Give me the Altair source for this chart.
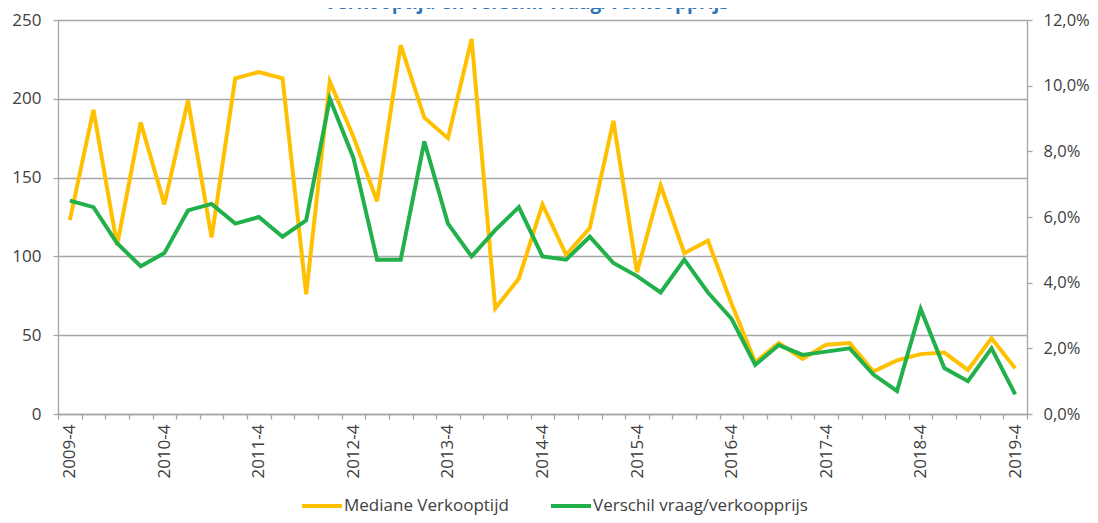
import altair as alt
import pandas as pd

quarters = [
    "2009-4",
    "2010-1", "2010-2", "2010-3", "2010-4",
    "2011-1", "2011-2", "2011-3", "2011-4",
    "2012-1", "2012-2", "2012-3", "2012-4",
    "2013-1", "2013-2", "2013-3", "2013-4",
    "2014-1", "2014-2", "2014-3", "2014-4",
    "2015-1", "2015-2", "2015-3", "2015-4",
    "2016-1", "2016-2", "2016-3", "2016-4",
    "2017-1", "2017-2", "2017-3", "2017-4",
    "2018-1", "2018-2", "2018-3", "2018-4",
    "2019-1", "2019-2", "2019-3", "2019-4",
]

verkooptijd = [
    123,
    193, 107, 185, 133,
    199, 112, 213, 217,
    213, 76, 211, 176,
    135, 234, 188, 175,
    238, 67, 86, 133,
    101, 118, 186, 90,
    145, 102, 110, 70,
    33, 45, 35, 44,
    45, 27, 34, 38,
    39, 28, 48, 29,
]

verschil = [
    6.5,
    6.3, 5.2, 4.5, 4.9,
    6.2, 6.4, 5.8, 6.0,
    5.4, 5.9, 9.6, 7.8,
    4.7, 4.7, 8.3, 5.8,
    4.8, 5.6, 6.3, 4.8,
    4.7, 5.4, 4.6, 4.2,
    3.7, 4.7, 3.7, 2.9,
    1.5, 2.1, 1.8, 1.9,
    2.0, 1.2, 0.7, 3.2,
    1.4, 1.0, 2.0, 0.6,
]

series_names = ["Mediane Verkooptijd", "Verschil vraag/verkoopprijs"]
series_colors = ["#FFC000", "#22B04B"]
left_ticks = [0, 50, 100, 150, 200, 250]
right_ticks = [0, 2, 4, 6, 8, 10, 12]
title_text = "Verkooptijd en verschil vraag/verkoopprijs"

df = pd.DataFrame({
    "kwartaal": quarters,
    series_names[0]: verkooptijd,
    series_names[1]: verschil,
})
long = df.melt(id_vars="kwartaal", var_name="reeks", value_name="waarde")

FONT = "Open Sans"
GRID = "#A6A6A6"
LABEL = "#404040"

x_enc = alt.X(
    "kwartaal:O",
    sort=quarters,
    bandPosition=0.5,
    scale=alt.Scale(type="band", paddingInner=0, paddingOuter=0),
    axis=alt.Axis(
        title=None,
        labelAngle=-90,
        labelExpr="indexof(datum.label, '-4') > 0 ? datum.label : ''",
        tickBand="extent",
        ticks=True,
        tickSize=5,
        grid=False,
        domainColor=GRID,
        tickColor=GRID,
        domainWidth=1.3,
        tickWidth=1.3,
        labelPadding=5,
        labelFontSize=17,
        labelFont=FONT,
        labelColor=LABEL,
        labelOverlap=False,
    ),
)

color_enc = alt.Color(
    "reeks:N",
    scale=alt.Scale(domain=series_names, range=series_colors),
    legend=alt.Legend(
        title=None,
        orient="none",
        direction="horizontal",
        legendX=242,
        legendY=464,
        symbolType="stroke",
        symbolSize=1600,
        symbolStrokeWidth=4,
        labelFontSize=17,
        labelFont=FONT,
        labelColor=LABEL,
        labelLimit=400,
        labelOffset=0,
        columnPadding=34,
    ),
)

left = (
    alt.Chart(long)
    .transform_filter(alt.datum.reeks == series_names[0])
    .mark_line(strokeWidth=4)
    .encode(
        x=x_enc,
        y=alt.Y(
            "waarde:Q",
            scale=alt.Scale(domain=[0, 250], nice=False),
            axis=alt.Axis(
                title=None,
                orient="left",
                values=left_ticks,
                grid=True,
                gridColor=GRID,
                gridWidth=1.3,
                domainColor=GRID,
                domainWidth=1.3,
                tickColor=GRID,
                tickWidth=1.3,
                tickSize=5,
                labelPadding=12,
                labelFontSize=17,
                labelFont=FONT,
                labelColor=LABEL,
            ),
        ),
        color=color_enc,
    )
)

right = (
    alt.Chart(long)
    .transform_filter(alt.datum.reeks == series_names[1])
    .mark_line(strokeWidth=4)
    .encode(
        x=x_enc,
        y=alt.Y(
            "waarde:Q",
            scale=alt.Scale(domain=[0, 12], nice=False),
            axis=alt.Axis(
                title=None,
                orient="right",
                values=right_ticks,
                labelExpr="replace(format(datum.value, '.1f'), '.', ',') + '%'",
                grid=False,
                domainColor=GRID,
                domainWidth=1.3,
                tickColor=GRID,
                tickWidth=1.3,
                tickSize=5,
                labelPadding=11,
                labelFontSize=16.5,
                labelFont=FONT,
                labelColor=LABEL,
            ),
        ),
        color=color_enc,
    )
)

chart = (
    alt.layer(left, right)
    .resolve_scale(y="independent")
    .properties(
        width=969,
        height=394,
        autosize=alt.AutoSizeParams(type="none"),
        padding={"left": 50, "top": 12, "right": 63, "bottom": 101},
        title=alt.TitleParams(
            text=title_text,
            fontSize=19,
            fontWeight="bold",
            color="#2E75B6",
            font=FONT,
            anchor="middle",
            frame="group",
            dx=-16,
            dy=6,
        ),
    )
    .configure_view(stroke=None)
)

chart.save("out.html", embed_options={"renderer": "svg", "actions": False})
